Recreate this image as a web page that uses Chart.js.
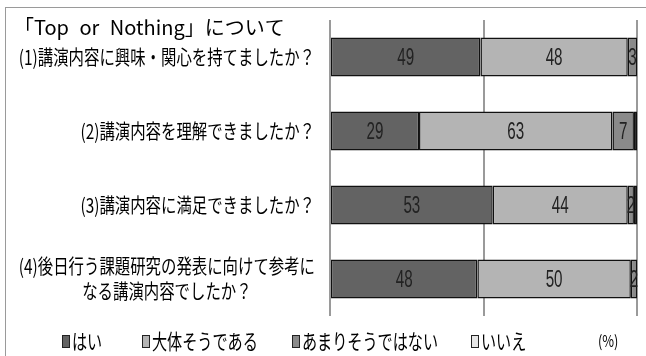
<!DOCTYPE html>
<html>
<head>
<meta charset="utf-8">
<script src="https://cdn.jsdelivr.net/npm/chart.js@4"></script>
<style>
  html, body { margin: 0; padding: 0; background: #fff; overflow: hidden; }
  #wrap { width: 646px; height: 356px; position: relative; }
</style>
</head>
<body>
<div id="wrap"><canvas id="chart" width="646" height="356"></canvas></div>
<script>
// chart data
const titleText = '「Top or Nothing」について';
const unitText = '(%)';
const categories = [
  '(1)講演内容に興味・関心を持てましたか？',
  '(2)講演内容を理解できましたか？',
  '(3)講演内容に満足できましたか？',
  ['(4)後日行う課題研究の発表に向けて参考に', 'なる講演内容でしたか？']
];
const seriesNames = ['はい', '大体そうである', 'あまりそうではない', 'いいえ'];
const yesValues = [49, 29, 53, 48];
const mostlyValues = [48, 63, 44, 50];
const notReallyValues = [3, 7, 2, 2];
const noValues = [0, 1, 1, 0];
const xTicks = [0, 50, 100];

const seriesColors = ['#636363', '#b4b4b4', '#8a8a8a', '#e6e6e6'];
const jpFont = '"Noto Sans CJK JP", "DejaVu Sans", sans-serif';

// draw text squeezed horizontally (the original is a narrow font)
function squeezeText(ctx, text, x, y, align, sx) {
  ctx.save();
  ctx.translate(x, y);
  ctx.scale(sx, 1);
  ctx.textAlign = align;
  ctx.fillText(text, 0, 0);
  ctx.restore();
}

const frame = {
  id: 'frame',
  beforeDraw(chart) {
    const ctx = chart.ctx;
    ctx.save();
    ctx.fillStyle = '#fff';
    ctx.fillRect(0, 0, chart.width, chart.height);
    ctx.strokeStyle = '#9a9a9a';
    ctx.lineWidth = 1;
    ctx.strokeRect(5.5, 7.5, chart.width + 20, chart.height + 20);
    ctx.restore();
  }
};

const labels = {
  id: 'labels',
  afterDatasetsDraw(chart) {
    const ctx = chart.ctx;
    ctx.save();
    ctx.fillStyle = '#222';
    ctx.textBaseline = 'middle';
    ctx.font = '23px "Liberation Sans", sans-serif';
    chart.data.datasets.forEach((ds, di) => {
      if (di > 2) return;
      chart.getDatasetMeta(di).data.forEach((bar, i) => {
        const v = ds.data[i];
        if (!v) return;
        const cx = (bar.x + bar.base) / 2;
        squeezeText(ctx, String(v), cx, bar.y + 2, 'center', 0.66);
      });
    });
    ctx.restore();
  },
  afterDraw(chart) {
    const ctx = chart.ctx;
    const yScale = chart.scales.y;
    ctx.save();
    ctx.fillStyle = '#000';
    ctx.textBaseline = 'middle';

    // title
    ctx.font = '20px ' + jpFont;
    ctx.wordSpacing = '6px';
    squeezeText(ctx, titleText, 14, 27, 'left', 1);
    ctx.wordSpacing = '0px';

    // category labels
    const sx = 0.77;
    const rightX = 315;
    ctx.font = '20px ' + jpFont;
    categories.forEach((lab, i) => {
      const y = yScale.getPixelForTick(i);
      if (Array.isArray(lab)) {
        const w = ctx.measureText(lab[0]).width * sx;
        const cx = rightX - w / 2;
        const lh = 25;
        lab.forEach((line, k) => {
          squeezeText(ctx, line, cx, y + (k - (lab.length - 1) / 2) * lh, 'center', sx);
        });
      } else {
        squeezeText(ctx, lab, rightX, y, 'right', sx);
      }
    });

    // legend
    const legendX = [62, 142, 292, 471];
    const ly = 341;
    ctx.font = '21px ' + jpFont;
    seriesNames.forEach((name, i) => {
      ctx.fillStyle = seriesColors[i];
      ctx.fillRect(legendX[i], ly - 6, 8, 13);
      ctx.strokeStyle = '#222';
      ctx.lineWidth = 1;
      ctx.strokeRect(legendX[i] + 0.5, ly - 5.5, 7, 12);
      ctx.fillStyle = '#000';
      squeezeText(ctx, name, legendX[i] + 10, ly, 'left', 0.72);
    });
    ctx.font = '16px ' + jpFont;
    squeezeText(ctx, unitText, 598, ly, 'left', 0.8);
    ctx.restore();
  }
};

const ctx = document.getElementById('chart').getContext('2d');
const valueSets = [yesValues, mostlyValues, notReallyValues, noValues];

new Chart(ctx, {
  type: 'bar',
  data: {
    labels: categories,
    datasets: seriesNames.map((name, i) => ({
      label: name,
      data: valueSets[i],
      backgroundColor: seriesColors[i],
      borderColor: '#111',
      borderWidth: 1.5,
      borderSkipped: false,
      barPercentage: 1,
      categoryPercentage: 0.53
    }))
  },
  options: {
    indexAxis: 'y',
    responsive: false,
    animation: false,
    devicePixelRatio: 1,
    layout: { padding: { left: 0, top: 20, right: 9, bottom: 40 } },
    plugins: {
      legend: { display: false },
      tooltip: { enabled: false }
    },
    scales: {
      x: {
        stacked: true,
        min: 0,
        max: 100,
        afterBuildTicks: s => { s.ticks = xTicks.map(v => ({ value: v })); },
        afterFit: s => { s.height = 0; },
        ticks: { display: false },
        border: { display: false },
        grid: { color: '#9a9a9a', lineWidth: 2, drawTicks: false }
      },
      y: {
        stacked: true,
        afterFit: s => { s.width = 330; },
        ticks: { display: false },
        border: { display: false },
        grid: { display: false }
      }
    }
  },
  plugins: [frame, labels]
});
</script>
</body>
</html>
